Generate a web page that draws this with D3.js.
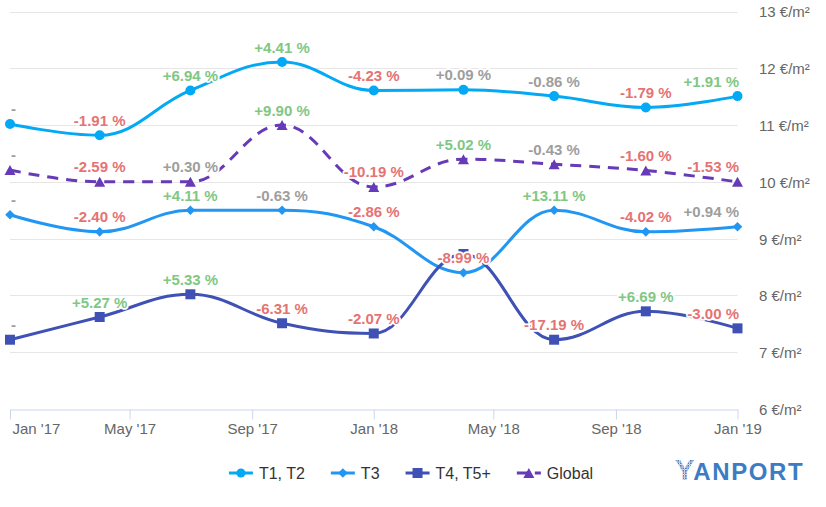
<!DOCTYPE html>
<html>
<head>
<meta charset="utf-8">
<script src="https://cdn.jsdelivr.net/npm/d3@7"></script>
<style>
  html, body { margin: 0; padding: 0; background: #fff; }
  svg { display: block; font-family: "Liberation Sans", Arial, Helvetica, sans-serif; }
</style>
</head>
<body>
<svg id="chart" width="826" height="507"></svg>
<script>
// ---------- DATA ----------
const dates = ["2017-01-01", "2017-04-01", "2017-07-01", "2017-10-01", "2018-01-01",
               "2018-04-01", "2018-07-01", "2018-10-01", "2019-01-01"];
const seriesNames = ["T1, T2", "T3", "T4, T5+", "Global"];
const t1t2Values   = [11.02, 10.82, 11.61, 12.11, 11.61, 11.62, 11.51, 11.31, 11.51];
const t3Values     = [9.42, 9.12, 9.50, 9.50, 9.21, 8.40, 9.50, 9.12, 9.21];
const t4t5Values   = [7.22, 7.62, 8.02, 7.51, 7.33, 8.73, 7.22, 7.72, 7.42];
const globalValues = [10.21, 10.00, 10.00, 11.00, 9.91, 10.40, 10.31, 10.20, 10.00];
const t1t2Labels   = ["-", "-1.91 %", "+6.94 %", "+4.41 %", "-4.23 %", "+0.09 %", "-0.86 %", "-1.79 %", "+1.91 %"];
const t3Labels     = ["-", "-2.40 %", "+4.11 %", "-0.63 %", "-2.86 %", "-8.99 %", "+13.11 %", "-4.02 %", "+0.94 %"];
const t4t5Labels   = ["-", "+5.27 %", "+5.33 %", "-6.31 %", "-2.07 %", "", "-17.19 %", "+6.69 %", "-3.00 %"];
const globalLabels = ["-", "-2.59 %", "+0.30 %", "+9.90 %", "-10.19 %", "+5.02 %", "-0.43 %", "-1.60 %", "-1.53 %"];
const yTicks = [6, 7, 8, 9, 10, 11, 12, 13];
const xDomain = ["2017-01-01", "2019-01-01"];

// ---------- SETUP ----------
const parse = d3.timeParse("%Y-%m-%d");
const svg = d3.select("#chart");
const plotL = 10, plotR = 737.5, plotT = 11.5, plotB = 409;

const x = d3.scaleTime().domain(xDomain.map(parse)).range([plotL, plotR]);
const y = d3.scaleLinear().domain([6, 13]).range([plotB, plotT]);

const series = [
  { name: seriesNames[0], values: t1t2Values,   labels: t1t2Labels,   color: "#03a9f4", marker: "circle",   dash: null },
  { name: seriesNames[1], values: t3Values,     labels: t3Labels,     color: "#2196f3", marker: "diamond",  dash: null },
  { name: seriesNames[2], values: t4t5Values,   labels: t4t5Labels,   color: "#3f51b5", marker: "square",   dash: null },
  { name: seriesNames[3], values: globalValues, labels: globalLabels, color: "#673ab7", marker: "triangle", dash: "11,8" }
];

// Highcharts-like spline curve
function HCSpline(context) { this._context = context; }
HCSpline.prototype = {
  areaStart() {}, areaEnd() {},
  lineStart() { this._pts = []; },
  point(px, py) { this._pts.push([+px, +py]); },
  lineEnd() {
    const p = this._pts, n = p.length, ctx = this._context;
    if (!n) return;
    const sm = 1.5, den = sm + 1;
    const lc = [], rc = [];
    for (let i = 0; i < n; i++) {
      if (i > 0 && i < n - 1) {
        const [px, py] = p[i], [lx, ly] = p[i - 1], [nx, ny] = p[i + 1];
        let lcx = (sm * px + lx) / den, lcy = (sm * py + ly) / den;
        let rcx = (sm * px + nx) / den, rcy = (sm * py + ny) / den;
        let corr = 0;
        if (rcx !== lcx) corr = ((rcy - lcy) * (rcx - px)) / (rcx - lcx) + py - rcy;
        lcy += corr; rcy += corr;
        if (lcy > ly && lcy > py) { lcy = Math.max(ly, py); rcy = 2 * py - lcy; }
        else if (lcy < ly && lcy < py) { lcy = Math.min(ly, py); rcy = 2 * py - lcy; }
        if (rcy > ny && rcy > py) { rcy = Math.max(ny, py); lcy = 2 * py - rcy; }
        else if (rcy < ny && rcy < py) { rcy = Math.min(ny, py); lcy = 2 * py - rcy; }
        lc[i] = [lcx, lcy]; rc[i] = [rcx, rcy];
      } else { lc[i] = p[i]; rc[i] = p[i]; }
    }
    ctx.moveTo(p[0][0], p[0][1]);
    for (let i = 1; i < n; i++) {
      ctx.bezierCurveTo(rc[i - 1][0], rc[i - 1][1], lc[i][0], lc[i][1], p[i][0], p[i][1]);
    }
  }
};
const curveHC = ctx => new HCSpline(ctx);

function markerPath(type, cx, cy) {
  switch (type) {
    case "circle": return null;
    case "diamond": { const r = 4.8; return `M${cx},${cy - r}L${cx + r},${cy}L${cx},${cy + r}L${cx - r},${cy}Z`; }
    case "square": { const r = 5; return `M${cx - r},${cy - r}H${cx + r}V${cy + r}H${cx - r}Z`; }
    case "triangle": { const w = 5.5, h = 5; return `M${cx},${cy - h}L${cx + w},${cy + h}L${cx - w},${cy + h}Z`; }
  }
}
function drawMarker(g, type, cx, cy, color) {
  if (type === "circle") g.append("circle").attr("cx", cx).attr("cy", cy).attr("r", 5).attr("fill", color);
  else g.append("path").attr("d", markerPath(type, cx, cy)).attr("fill", color);
}

// ---------- GRID ----------
svg.append("g").selectAll("line").data(yTicks.filter(v => v > 6)).join("line")
  .attr("x1", plotL).attr("x2", plotR)
  .attr("y1", d => Math.round(y(d)) + 0.5).attr("y2", d => Math.round(y(d)) + 0.5)
  .attr("stroke", "#e6e6e6").attr("stroke-width", 1);

// ---------- X AXIS ----------
const xTickVals = d3.timeMonth.every(4).range(parse("2017-01-01"), d3.timeDay.offset(parse("2019-01-01"), 1));
const xAxis = svg.append("g").attr("transform", `translate(0,${plotB + 0.5})`)
  .call(d3.axisBottom(x).tickValues(xTickVals).tickFormat(d3.timeFormat("%b '%y"))
        .tickSize(10).tickSizeOuter(0).tickPadding(4));
xAxis.select(".domain").attr("stroke", "#ccd6eb");
xAxis.selectAll(".tick line").attr("stroke", "#ccd6eb");
xAxis.selectAll(".tick text").attr("fill", "#666").style("font-size", "15px").style("font-family", "inherit");
xAxis.selectAll(".tick text").filter((d, i) => i === 0).attr("text-anchor", "start").attr("x", 2);

// ---------- Y AXIS ----------
const yAxis = svg.append("g").attr("transform", `translate(${plotR},0)`)
  .call(d3.axisRight(y).tickValues(yTicks).tickFormat(d => `${d} €/m²`).tickSize(0).tickPadding(21.5));
yAxis.select(".domain").remove();
yAxis.selectAll(".tick text").attr("fill", "#666").style("font-size", "15px").style("font-family", "inherit").attr("dy", "0.36em");

// ---------- SERIES ----------
const line = d3.line().x((d, i) => x(parse(dates[i]))).y(d => y(d)).curve(curveHC);
const seriesG = svg.append("g");
series.forEach(s => {
  const g = seriesG.append("g");
  g.append("path").datum(s.values).attr("d", line)
    .attr("fill", "none").attr("stroke", s.color).attr("stroke-width", 3)
    .attr("stroke-linejoin", "round").attr("stroke-linecap", s.dash ? "butt" : "round")
    .attr("stroke-dasharray", s.dash);
  s.values.forEach((v, i) => drawMarker(g, s.marker, x(parse(dates[i])), y(v), s.color));
});

// ---------- DATA LABELS ----------
function labelColor(t) {
  if (t === "-") return "#9e9e9e";
  const v = parseFloat(t);
  if (Math.abs(v) < 1) return "#9e9e9e";
  return v > 0 ? "#81c784" : "#e57373";
}
const labelG = svg.append("g");
series.forEach(s => {
  s.values.forEach((v, i) => {
    const t = s.labels[i];
    if (!t) return;
    const cx = x(parse(dates[i])), cy = y(v);
    const txt = labelG.append("text")
      .attr("x", cx).attr("y", cy - 9.5)
      .attr("text-anchor", "middle")
      .style("font-size", "15px").style("font-weight", "bold")
      .attr("fill", labelColor(t))
      .attr("stroke", "#fff").attr("stroke-width", 3.5).attr("stroke-linejoin", "round")
      .attr("paint-order", "stroke")
      .text(t);
    const w = txt.node().getComputedTextLength();
    let left = cx - w / 2;
    if (left < 11) left = 11;
    if (left + w > 739) left = 739 - w;
    txt.attr("x", left + w / 2);
  });
});

// ---------- LEGEND ----------
const legend = svg.append("g");
const symW = 24, textOff = 30, gap = 26, legY = 473;
const items = series.map(s => {
  const t = legend.append("text").style("font-size", "16px").attr("fill", "#333").text(s.name);
  return { s, t, w: t.node().getComputedTextLength() };
});
const total = d3.sum(items, d => textOff + d.w) + gap * (items.length - 1);
let lx = 411 - total / 2;
items.forEach(({ s, t, w }) => {
  legend.append("line").attr("x1", lx).attr("x2", lx + symW).attr("y1", legY).attr("y2", legY)
    .attr("stroke", s.color).attr("stroke-width", 3).attr("stroke-dasharray", s.dash ? "13,5" : null);
  const mx = lx + symW / 2;
  if (s.marker === "circle") legend.append("circle").attr("cx", mx).attr("cy", legY).attr("r", 4.5).attr("fill", s.color);
  else legend.append("path").attr("d", markerPath(s.marker, mx, legY)).attr("fill", s.color);
  t.attr("x", lx + textOff).attr("y", legY + 6);
  lx += textOff + w + gap;
});

// ---------- LOGO ----------
const defs = svg.append("defs");
const pat = defs.append("pattern").attr("id", "dots").attr("patternUnits", "userSpaceOnUse")
  .attr("width", 2.5).attr("height", 2.5);
pat.append("rect").attr("width", 1.8).attr("height", 1.8).attr("fill", "#4a7bbf");
pat.append("rect").attr("x", 1.8).attr("y", 1.8).attr("width", 0.7).attr("height", 0.7).attr("fill", "#b07080");
const logo = svg.append("text").attr("x", 675).attr("y", 480)
  .style("font-size", "24px").style("font-weight", "bold").attr("letter-spacing", "1.6");
logo.append("tspan").attr("fill", "url(#dots)").style("font-size", "29px").attr("letter-spacing", "-1").text("Y");
logo.append("tspan").attr("fill", "#3b7cc4").text("ANPORT");
</script>
</body>
</html>
